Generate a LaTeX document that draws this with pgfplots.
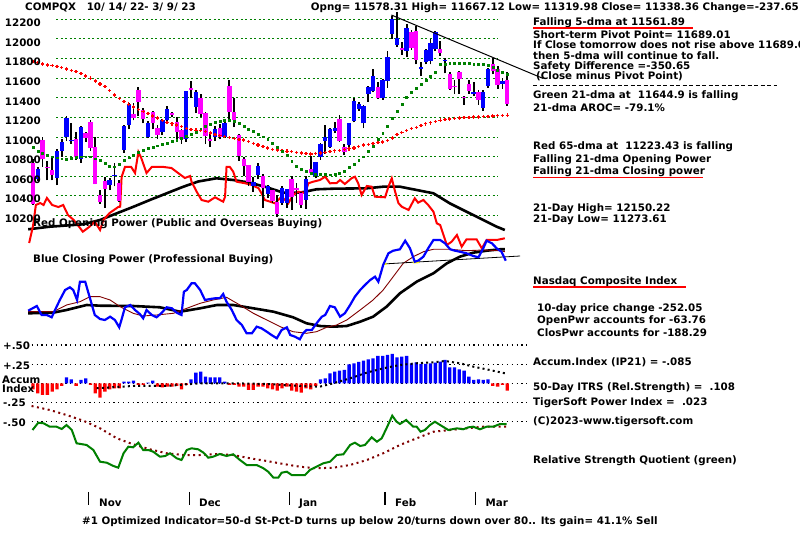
\documentclass[border=0pt]{standalone}
\usepackage{pgfplots}
\pgfplotsset{compat=1.18}
\usepackage{pgfplotstable}
\usepackage{fontspec}
\setmainfont{DejaVu Sans}
\definecolor{tsgreen}{RGB}{0,128,0}
\definecolor{tsred}{RGB}{255,0,0}
\definecolor{tsblue}{RGB}{0,0,255}
\definecolor{tsmag}{RGB}{255,0,255}
\definecolor{tsdred}{RGB}{128,0,0}
\definecolor{tsyellow}{RGB}{255,255,0}

% daily candles: i O H L C
\pgfplotstableread{
i O H L C
0 10738 10780 10310 10321
1 10573 10700 10550 10676
2 10970 11000 10700 10772
3 10700 10760 10560 10680
4 10665 10800 10560 10615
5 10583 10880 10510 10860
6 10860 10980 10800 10953
7 10998 11210 10960 11199
8 10955 11140 10930 10971
9 10980 11050 10770 10793
10 10775 11115 10740 11102
11 11040 11050 10950 10988
12 11155 11170 10860 10891
13 10900 11000 10520 10525
14 10410 10460 10320 10343
15 10555 10590 10280 10475
16 10510 10580 10460 10565
17 10600 10740 10500 10616
18 10530 10560 10340 10353
19 10870 11120 10840 11114
20 11120 11350 11080 11323
21 11240 11350 11170 11196
22 11480 11510 11210 11358
23 11280 11300 11140 11184
24 11005 11160 10990 11145
25 11260 11270 11080 11146
26 11090 11120 10980 11025
27 11055 11180 11020 11174
28 11170 11320 11150 11285
29 11250 11260 11200 11226
30 11155 11200 10980 11050
31 11070 11080 10930 10984
32 10985 11470 10950 11468
33 11500 11570 11400 11482
34 11310 11480 11250 11462
35 11395 11440 11200 11240
36 11245 11260 10930 11015
37 10980 11030 10900 10959
38 11005 11110 10960 11082
39 11090 11130 10980 11005
40 11005 11150 10990 11144
41 11520 11580 11180 11257
42 11260 11400 11100 11171
43 11020 11030 10760 10811
44 10780 10800 10600 10705
45 10712 10720 10500 10546
46 10500 10590 10440 10547
47 10610 10740 10570 10709
48 10600 10620 10280 10476
49 10420 10510 10380 10498
50 10460 10470 10330 10353
51 10340 10410 10190 10213
52 10330 10500 10310 10478
53 10330 10470 10280 10466
54 10570 10600 10260 10387
55 10480 10530 10330 10459
56 10435 10440 10280 10305
57 10360 10600 10270 10569
58 10670 10810 10620 10636
59 10600 10750 10580 10743
60 10800 10935 10770 10932
61 10960 11120 10830 11001
62 10900 11090 10890 11079
63 11060 11150 11040 11095
64 11180 11220 10950 10957
65 10900 10930 10820 10852
66 10920 11145 10890 11140
67 11160 11400 11150 11364
68 11290 11360 11270 11334
69 11140 11330 11090 11313
70 11440 11520 11360 11512
71 11470 11690 11460 11622
72 11510 11560 11390 11394
73 11400 11590 11380 11585
74 11570 11880 11500 11816
75 12050 12230 12000 12201
76 11940 12270 11920 12007
77 11910 11970 11840 11887
78 11880 12150 11820 12114
79 12070 12090 11890 11911
80 12080 12130 11740 11790
81 11690 11760 11620 11718
82 11760 11900 11740 11892
83 11780 12000 11740 11960
84 11900 12080 11880 12071
85 11900 11980 11830 11856
86 11770 11810 11650 11787
87 11640 11660 11480 11492
88 11520 11580 11440 11507
89 11660 11670 11440 11590
90 11410 11420 11330 11395
91 11545 11580 11440 11467
92 11440 11560 11420 11456
93 11460 11480 11330 11379
94 11300 11480 11270 11463
95 11520 11700 11500 11689
96 11740 11810 11640 11676
97 11690 11720 11490 11530
98 11545 11600 11490 11576
99 11578.31 11667.12 11319.98 11338.36
}\candles

\pgfplotstableread{
i O C
1 10573 10676
5 10583 10860
6 10860 10953
7 10998 11199
8 10955 10971
10 10775 11102
16 10510 10565
17 10600 10616
19 10870 11114
20 11120 11323
24 11005 11145
27 11055 11174
28 11170 11285
32 10985 11468
34 11310 11462
38 11005 11082
40 11005 11144
46 10500 10547
47 10610 10709
49 10420 10498
52 10330 10478
53 10330 10466
57 10360 10569
59 10600 10743
60 10800 10932
61 10960 11001
62 10900 11079
63 11060 11095
66 10920 11140
67 11160 11364
68 11290 11334
69 11140 11313
70 11440 11512
71 11470 11622
73 11400 11585
74 11570 11816
75 12050 12201
76 11940 12007
78 11880 12114
81 11690 11718
82 11760 11892
83 11780 11960
84 11900 12071
86 11770 11787
92 11440 11456
94 11300 11463
95 11520 11689
98 11545 11576
}\upc

\pgfplotstableread{
i O C
0 10738 10321
2 10970 10772
3 10700 10680
4 10665 10615
9 10980 10793
11 11040 10988
12 11155 10891
13 10900 10525
14 10410 10343
15 10555 10475
18 10530 10353
21 11240 11196
22 11480 11358
23 11280 11184
25 11260 11146
26 11090 11025
29 11250 11226
30 11155 11050
31 11070 10984
33 11500 11482
35 11395 11240
36 11245 11015
37 10980 10959
39 11090 11005
41 11520 11257
42 11260 11171
43 11020 10811
44 10780 10705
45 10712 10546
48 10600 10476
50 10460 10353
51 10340 10213
54 10570 10387
55 10480 10459
56 10435 10305
58 10670 10636
64 11180 10957
65 10900 10852
72 11510 11394
77 11910 11887
79 12070 11911
80 12080 11790
85 11900 11856
87 11640 11492
88 11520 11507
89 11660 11590
90 11410 11395
91 11545 11467
93 11460 11379
96 11740 11676
97 11690 11530
99 11578.31 11338.36
}\dnc

% red 65-dma
\pgfplotstableread{
i v
0 11770
1 11757
2 11745
3 11735
4 11727
5 11720
6 11706
7 11692
8 11678
9 11665
10 11645
11 11622
12 11600
13 11572
14 11542
15 11513
16 11472
17 11430
18 11395
19 11362
20 11335
21 11305
22 11280
23 11260
24 11242
25 11215
26 11193
27 11170
28 11148
29 11135
30 11123
31 11105
32 11088
33 11075
34 11070
35 11065
36 11055
37 11040
38 11025
39 11015
40 11005
41 10993
42 10985
43 10978
44 10970
45 10953
46 10936
47 10919
48 10902
49 10888
50 10875
51 10868
52 10862
53 10856
54 10851
55 10845
56 10838
57 10830
58 10827
59 10832
60 10838
61 10845
62 10852
63 10860
64 10866
65 10872
66 10880
67 10890
68 10905
69 10918
70 10927
71 10936
72 10942
73 10950
74 10965
75 10990
76 11025
77 11045
78 11065
79 11085
80 11100
81 11115
82 11135
83 11145
84 11158
85 11172
86 11178
87 11185
88 11190
89 11194
90 11197
91 11201
92 11203
93 11205
94 11208
95 11211
96 11214
97 11217
98 11220
99 11223
}\dmaRed

% green 21-dma
\pgfplotstableread{
i v
0 10896
1 10860
2 10840
3 10815
4 10800
5 10790
6 10780
7 10773
8 10785
9 10795
10 10800
11 10800
12 10800
13 10780
14 10760
15 10730
16 10700
17 10698
18 10720
19 10760
20 10790
21 10815
22 10845
23 10868
24 10890
25 10900
26 10912
27 10925
28 10940
29 10955
30 10970
31 10990
32 11008
33 11030
34 11050
35 11085
36 11115
37 11135
38 11155
39 11165
40 11174
41 11170
42 11162
43 11140
44 11110
45 11080
46 11058
47 11030
48 11004
49 10975
50 10940
51 10900
52 10860
53 10815
54 10750
55 10705
56 10670
57 10650
58 10632
59 10625
60 10623
61 10620
62 10617
63 10620
64 10630
65 10650
66 10690
67 10725
68 10760
69 10800
70 10860
71 10905
72 10975
73 11035
74 11110
75 11190
76 11260
77 11335
78 11405
79 11455
80 11495
81 11540
82 11580
83 11622
84 11665
85 11740
86 11745
87 11750
88 11752
89 11755
90 11752
91 11748
92 11745
93 11745
94 11742
95 11728
96 11710
97 11680
98 11660
99 11645
}\dmaGreen

% accumulation index (IP21)
\pgfplotstableread{
i v
0 -0.079
1 -0.131
2 -0.153
3 -0.153
4 -0.109
5 -0.079
6 -0.035
7 0.079
8 0.052
9 -0.035
10 0.044
11 0.065
12 -0.022
13 -0.131
14 -0.188
15 -0.109
16 -0.079
17 -0.065
18 -0.065
19 0.022
20 0.022
21 0.035
22 -0.022
23 -0.022
24 0.009
25 0.035
26 -0.044
27 -0.052
28 -0.044
29 -0.044
30 -0.035
31 -0.079
32 -0.022
33 0.052
34 0.140
35 0.153
36 0.087
37 0.079
38 0.079
39 0.079
40 0.022
41 -0.022
42 -0.022
43 -0.044
44 -0.044
45 -0.087
46 -0.087
47 -0.044
48 -0.044
49 -0.065
50 -0.079
51 -0.096
52 -0.065
53 -0.044
54 -0.096
55 -0.109
56 -0.122
57 -0.065
58 -0.079
59 -0.035
60 0.052
61 0.065
62 0.131
63 0.153
64 0.166
65 0.175
66 0.249
67 0.262
68 0.279
69 0.297
70 0.314
71 0.327
72 0.358
73 0.358
74 0.371
75 0.384
76 0.340
77 0.349
78 0.358
79 0.262
80 0.275
81 0.253
82 0.253
83 0.262
84 0.271
85 0.284
86 0.305
87 0.209
88 0.209
89 0.183
90 0.166
91 0.087
92 0.044
93 0.052
94 0.044
95 0.052
96 -0.035
97 -0.044
98 -0.020
99 -0.096
}\accum

\pgfplotsset{tsframe/.style={at={(0pt,0pt)}, anchor=south west, scale only axis,
  width=800pt, height=534pt, xmin=-6.8894, xmax=160.125, hide axis, clip=false},
  nomark/.style={only marks, mark=*, mark size=0pt, mark options={draw=none, fill=none}, forget plot}}
\tikzset{tx/.style={anchor=base west, inner sep=0pt, font=\fontsize{10.3}{12}\selectfont\bfseries},
         tr/.style={anchor=base east, inner sep=0pt, font=\fontsize{10.3}{12}\selectfont\bfseries}}

\begin{document}
\begin{tikzpicture}
\useasboundingbox (0,0) rectangle (800pt,534pt);
\fill[white] (0,0) rectangle (800pt,534pt);
% ---- background grid lines (pixel frame) ----
\begin{scope}[shift={(0pt,534pt)}, x=1pt, y=-1pt]
  \foreach \yy in {19.3,38.93,58.56,78.19,97.82,117.45,137.08,156.71,176.34,195.97,215.6}
    \draw[tsgreen, line width=1pt, dash pattern=on 2pt off 2.5pt] (56,\yy) -- (498,\yy);
  \foreach \yy in {345,364.3,383.3,402.3,421.7}
    \draw[black, line width=1.2pt, dash pattern=on 1.2pt off 3.6pt] (31.7,\yy) -- (527,\yy);
\end{scope}

% ---- indicator panel (pixel-row units) ----
\begin{axis}[tsframe, ymin=0, ymax=534, y dir=reverse]
% opening power MA (black)
\addplot[black, line width=2.6pt] coordinates {
(-1,229.3) (3.5,226.7) (10.5,224.3) (14,220) (17.5,213.3) (21,206.7) (24.4,200) (27.9,193.3)
(31.4,186.7) (34.5,181.5) (38.3,178.3) (41.8,180) (45.3,182.7) (48.8,187.3) (52.3,192.7)
(55.7,192.7) (59.2,189.3) (62.7,188.7) (69.7,188.3) (73.1,186.7) (76.6,186.7) (80.1,190)
(83.6,193.3) (87,203.3) (90.5,211.7) (94,220) (96.8,226.7) (98.5,230)};
% red opening power
\addplot[tsred, line width=2pt] coordinates {
(-0.8,243) (0,226) (0.6,205) (1.5,203) (2.2,205) (2.9,198) (4,205) (5.3,207) (6.3,205)
(7.3,215) (8.5,220) (9.5,226) (10.4,231.7) (11.8,226.7) (12.9,221.7) (14,230) (14.7,220)
(16,213) (17.8,207) (18.2,206.7) (18.5,177) (19.2,167) (20.5,167) (21.3,173) (22,152)
(22.6,158) (23.7,173) (24.8,167) (26,167) (27.3,167) (28.9,168) (30.3,173) (31.7,178)
(32.8,176) (33.1,181.7) (34.2,192) (35.2,200) (36.6,201.7) (38,197.3) (39.7,201.7)
(40.1,196.7) (40.4,167) (41.1,167) (41.8,171.7) (42.5,181.7) (44.3,183.3) (45.7,185)
(47.1,188.3) (47.7,193.3) (48.4,200) (49.5,201.7) (50.5,203.3) (51.9,196.7) (53.3,203.3)
(54.3,195) (55.4,191.7) (56.8,193) (57.5,183.3) (58.5,181.7) (59.9,180) (61,176.7)
(62,183.3) (63.4,183) (64.1,180) (65.1,184) (66.5,178.3) (67.2,176.7) (67.9,183.3)
(68.6,195) (69.7,186) (70.7,186.7) (71.4,196.7) (73.5,197.3) (74.2,186.7) (74.9,178.3)
(75.6,191.7) (76.3,203.3) (77,206.7) (78.4,210) (79.7,198.3) (80.4,202.7) (81.5,200)
(82.5,205) (83.6,211.7) (84.3,223.3) (85,225) (86.4,245) (87.4,241.7) (88.5,235)
(89.5,246.7) (90.5,239.3) (92.6,239.3) (93.7,248.3) (94.7,240) (96.8,240) (98.5,238.3)};
% closing power thick black MA
\addplot[black, line width=2.6pt] coordinates {
(-1,313.3) (4.2,312.7) (7,310) (11.2,305) (14,305.7) (20.9,306) (26.5,307.3) (30.7,311.7)
(34.9,308.3) (38.4,305) (41.8,305) (46,308.3) (50.2,311.7) (54.3,317.3) (57.1,323.3)
(59.9,326) (62.7,326.7) (65.5,326) (68.3,321.7) (71,316.7) (73.8,306.7) (76.6,293.3)
(80.1,281.7) (83.6,273.3) (86.4,263.3) (89.1,256.7) (91.9,252.7) (94.7,250.7) (97.5,249.3)
(98.5,249.3)};
% closing power thin dark-red MA
\addplot[tsdred, line width=0.9pt] coordinates {
(-1,311.7) (4.2,311.7) (7,305) (9.8,301.7) (11.9,296.7) (14,296.7) (16.1,300) (18.2,306.7)
(20.9,313.3) (23,316) (25.8,315) (29.3,313.3) (32.1,308.3) (34.9,303.3) (37.6,300)
(40.4,297.3) (43.2,305) (46,313.3) (48.8,320) (51.6,326.7) (54.3,331.7) (57.1,333.3)
(59.2,331.7) (61.3,327.3) (63.4,325) (65.5,320) (68.3,310) (71,300) (73.1,290) (75.2,276.7)
(77.3,263.3) (79.4,256.7) (81.5,251.7) (83.6,249.3) (87.1,249.3) (90.5,250.7) (94,250)
(97.5,250.7) (98.5,251.7)};
% trend line on closing power
\addplot[black, line width=0.8pt] coordinates {(73.1,264) (101.7,256)};
\addplot[tsyellow, line width=2pt] coordinates {(73.2,264) (73.8,263.9)};
\addplot[tsyellow, line width=2pt] coordinates {(79.3,262.5) (80.6,262.2)};
% blue closing power
\addplot[tsblue, line width=2.2pt] coordinates {
(-1,310.7) (0.8,306) (1.8,315) (2.9,315) (3.9,317.3) (4.6,310) (5.6,300) (6.7,290)
(7.7,287.3) (8.4,290) (9.2,300) (9.8,281.7) (10.9,281.7) (11.5,291.7) (12.3,305) (12.9,315)
(14,319) (15,320) (16.1,316.7) (17.1,320) (18,327.3) (18.5,319.3) (19.2,307.3) (20.3,305)
(21.3,310) (22.3,314) (23,318.3) (23.7,310) (24.8,315) (25.8,317.3) (26.9,312.7)
(27.9,307.3) (29,308.3) (30,312.7) (31,315) (31.5,291.7) (32.1,290) (33.1,283.3)
(33.8,283.3) (34.9,290) (35.9,300) (37,299) (38,298.3) (39,298.3) (39.7,294) (40.4,301.7)
(41.5,310) (42.5,320) (43.6,325) (44.6,333.3) (45.7,333.3) (46.7,326.7) (47.7,328.3)
(48.8,331.7) (49.8,335) (50.9,338.3) (51.9,330) (53,327.3) (53.7,335) (54.7,336.7)
(55.7,339.3) (56.4,333.3) (57.1,330) (58.2,330) (59.2,323.3) (60.3,316.7) (61,315)
(62,306) (63,307.3) (64.1,316.7) (65.1,313.3) (66.2,305) (67.2,296.7) (68.3,290) (69.3,285)
(70.4,280) (71.4,276.7) (72.1,281.7) (73.1,265) (74.2,253.3) (75.2,250.7) (76.6,249.3)
(77.7,240.7) (78.7,248.3) (79.7,261.7) (80.4,260.7) (81.5,256.7) (82.5,248.3) (83.6,240)
(85,240) (86,243.3) (87.1,249.3) (88.1,250.7) (89.1,251.7) (90.5,253.3) (91.9,256)
(93,257.3) (94,248.3) (94.7,240.7) (95.8,243.3) (96.8,248.3) (97.8,251.7) (98.7,260.7)};
% relative strength quotient MA (dark red dots)
\addplot[tsdred, line width=2pt, dash pattern=on 2pt off 3.5pt] coordinates {
(-0.3,406) (3.5,410) (7,415) (10.5,420.7) (14,428.3) (17.5,438.3) (20.9,444.3) (24.4,449.3)
(27.9,453.3) (31.4,455) (34.9,455) (38.4,454) (41.8,455) (45.3,458.3) (48.8,461) (52.3,464)
(55.7,466.7) (59.2,468.3) (62.7,467.7) (66.2,465) (69.7,460) (73.1,453.3) (76.6,445)
(80.1,438.3) (83.6,431.7) (87.1,430) (90.5,428.3) (94,426.7) (98.9,426.7)};
% relative strength quotient (green)
\addplot[tsgreen, line width=2pt] coordinates {
(-0.1,430) (1.1,422.7) (2.2,423.3) (3.5,426.7) (4.9,426.7) (6,429) (7,425) (8.1,430)
(9.1,443.3) (11.2,445) (12.6,450) (14,461.7) (15.4,462.7) (16.8,466) (17.8,467.7)
(18.9,453.3) (19.9,446.7) (20.9,447.3) (22,442.7) (23,450) (24.1,450) (25.1,451.7)
(26.5,456.7) (27.6,456) (28.6,453.3) (30,458.3) (31,460) (32.1,450) (33.1,448.3)
(34.5,449.3) (35.6,452.7) (36.6,457.7) (37.6,456.7) (39,454) (40.4,456) (41.8,454.3)
(43.2,460) (44.6,465) (46.7,465) (48.1,468.3) (49.1,471.7) (50.2,477.7) (51.2,477.7)
(51.9,472.7) (53,471.7) (54,475) (56.8,475) (57.8,470) (59.2,466.7) (60.6,463.3) (62,461.7)
(63.4,455) (64.8,454.3) (66.2,445) (67.2,442.7) (68.3,446) (69.3,445) (70.7,437.3)
(71.8,441.7) (72.8,438.3) (73.8,428.3) (75,415.7) (75.9,421.7) (76.6,424) (77.9,420)
(79.4,426.7) (80.1,426.7) (80.9,431.7) (81.8,430) (82.9,425) (83.9,421.7) (85,425)
(86.7,430) (88.5,428.3) (89.8,429.3) (90.9,427.3) (91.9,426.7) (93.3,429.3) (94.7,426.7)
(96.1,426.7) (97.5,424) (98.9,424)};
\end{axis}

% ---- price panel ----
\begin{axis}[tsframe, ymin=6956, ymax=12396.6]
% wicks
\addplot[nomark,
  error bars/.cd, y dir=plus, y explicit, error mark=none,
  error bar style={line width=1.8pt, color=black}]
  table[x=i, y=L, y error plus expr=\thisrow{H}-\thisrow{L}] \candles;
% up bodies
\addplot[nomark,
  error bars/.cd, y dir=plus, y explicit, error mark=none,
  error bar style={line width=4.4pt, color=tsblue}]
  table[x=i, y=O, y error plus expr=\thisrow{C}-\thisrow{O}] \upc;
% down bodies
\addplot[nomark,
  error bars/.cd, y dir=plus, y explicit, error mark=none,
  error bar style={line width=4.4pt, color=tsmag}]
  table[x=i, y=C, y error plus expr=\thisrow{O}-\thisrow{C}] \dnc;
% 65-dma red crosses
\addplot[only marks, mark=+, mark size=1.7pt, mark options={line width=1.3pt, tsred}]
  table[x=i, y=v] \dmaRed;
% 21-dma green dots
\addplot[only marks, mark=square*, mark size=0.95pt, tsgreen, mark options={draw=none, fill=tsgreen}]
  table[x=i, y=v] \dmaGreen;
% falling trend line
\addplot[black, line width=1pt] coordinates {(74.8,12244) (106.5,11597)};
\end{axis}

% ---- accumulation index ----
\begin{axis}[tsframe, ymin=-1.9725, ymax=5.017]
\addplot[ybar, bar width=3.3pt, bar shift=0pt, fill=tsblue, draw=none,
  y filter/.expression={y>0 ? y : nan}, unbounded coords=discard]
  table[x=i, y=v] \accum;
\addplot[ybar, bar width=3.3pt, bar shift=0pt, fill=tsred, draw=none,
  y filter/.expression={y<0 ? y : nan}, unbounded coords=discard]
  table[x=i, y=v] \accum;
\addplot[black, line width=2pt, dash pattern=on 2pt off 3.2pt] coordinates {
(13.3,-0.065) (20.9,-0.035) (27.9,-0.035) (34.9,0) (41.8,0) (48.8,-0.009) (55.7,-0.035)
(59.9,-0.044) (62.7,0) (66.2,0.065) (69.7,0.140) (73.1,0.196) (76.6,0.240) (80.1,0.262)
(83.6,0.275) (86,0.292) (89.1,0.262) (91.9,0.218) (94.7,0.183) (98.5,0.131)};
\end{axis}

% ---- texts (pixel frame) ----
\begin{scope}[shift={(0pt,534pt)}, x=1pt, y=-1pt]
\node[tx] at (25,11) {COMPQX\ \ \ 10/ 14/ 22- 3/ 9/ 23};
\node[tr] at (799,11) {Opng= 11578.31 High= 11667.12 Low= 11319.98 Close= 11338.36 Change=-237.65};
% price labels
\node[tr] at (41,26.6) {12200};
\node[tr] at (41,46.2) {12000};
\node[tr] at (41,65.9) {11800};
\node[tr] at (41,85.5) {11600};
\node[tr] at (41,105.1) {11400};
\node[tr] at (41,124.8) {11200};
\node[tr] at (41,144.4) {11000};
\node[tr] at (41,164) {10800};
\node[tr] at (41,183.6) {10600};
\node[tr] at (41,202.5) {10400};
\node[tr] at (41,222.6) {10200};
% panel titles
\node[tx] at (33,226.5) {Red Opening Power (Public and Overseas Buying)};
\node[tx] at (33,263) {Blue Closing Power (Professional Buying)};
% accum labels
\node[tx] at (3,350) {+.50};
\node[tx] at (3,369.5) {+.25};
\node[tx] at (2,383.5) {Accum};
\node[tx] at (2,393) {Index};
\node[tx] at (3,407) {-.25};
\node[tx] at (3,426.5) {-.50};
% months
\foreach \mx in {88.3,189.3,289.3,385,475.7}
  \draw[black, line width=1.5pt] (\mx,492) -- (\mx,505);
\node[tx] at (99,507) {Nov};
\node[tx] at (199,507) {Dec};
\node[tx] at (299,507) {Jan};
\node[tx] at (395,507) {Feb};
\node[tx] at (485.5,507) {Mar};
\node[tx] at (82,525) {\#1 Optimized Indicator=50-d St-Pct-D turns up below 20/turns down over 80.. Its gain= 41.1\% Sell};
% right-hand notes
\node[tx] at (533,26) {Falling 5-dma at 11561.89};
\draw[tsred, line width=1.8pt] (533,28) -- (693,28);
\node[tx] at (533,38.5) {Short-term Pivot Point= 11689.01};
\node[tx] at (533,49) {If Close tomorrow does not rise above 11689.01};
\node[tx] at (533,59.3) {then 5-dma will continue to fall.};
\node[tx] at (533,69.3) {Safety Difference =-350.65};
\node[tx] at (536,79.3) {(Close minus Pivot Point)};
\draw[black, line width=0.9pt, dash pattern=on 4pt off 2.5pt] (533,85) -- (777,85);
\node[tx] at (533,99) {Green 21-dma at\ \ 11644.9 is falling};
\node[tx] at (533,111.5) {21-dma AROC= -79.1\%};
\node[tx] at (533,150) {Red 65-dma at\ \ 11223.43 is falling};
\node[tx] at (533,162.3) {Falling 21-dma Opening Power};
\node[tx] at (533,175) {Falling 21-dma Closing power};
\draw[tsred, line width=1.8pt] (533,177.5) -- (703,177.5);
\node[tx] at (533,211.3) {21-Day High= 12150.22};
\node[tx] at (533,222.7) {21-Day Low= 11273.61};
\node[tx] at (533,285) {Nasdaq Composite Index};
\draw[tsred, line width=2pt] (533,287) -- (686,287);
\node[tx] at (537,311.5) {10-day price change -252.05};
\node[tx] at (537,324) {OpenPwr accounts for -63.76};
\node[tx] at (537,336.5) {ClosPwr accounts for -188.29};
\node[tx] at (533,366) {Accum.Index (IP21) = -.085};
\node[tx] at (533,391) {50-Day ITRS (Rel.Strength) =\ \ .108};
\node[tx] at (533,406) {TigerSoft Power Index =\ \ .023};
\node[tx] at (533,424.5) {(C)2023-www.tigersoft.com};
\node[tx] at (533,464) {Relative Strength Quotient (green)};
\end{scope}
\end{tikzpicture}
\end{document}
